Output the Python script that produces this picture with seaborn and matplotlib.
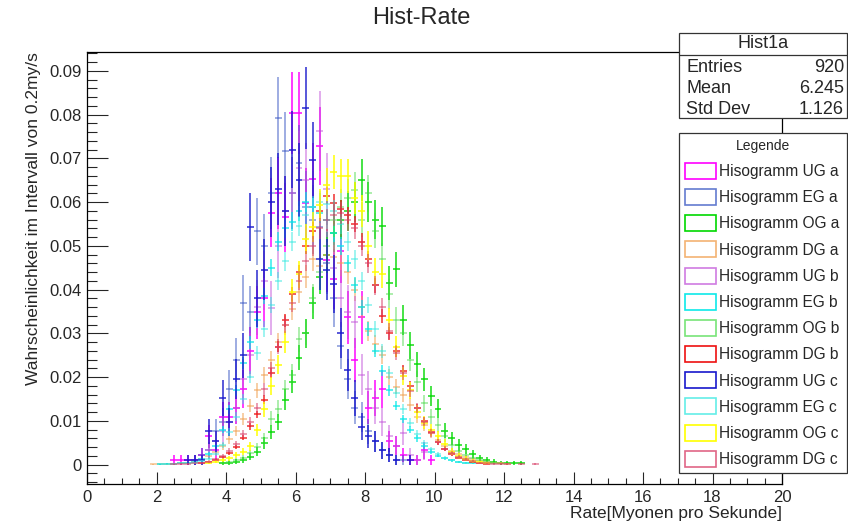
import numpy as np
import matplotlib.pyplot as plt
import matplotlib.ticker as mticker
import seaborn as sns
from matplotlib.patches import Patch, Rectangle
from matplotlib.lines import Line2D

sns.set_style('ticks')
plt.rcParams['font.family'] = ['Liberation Sans', 'DejaVu Sans']

# bin width 0.2, each series: first bin centre + probabilities
ug_a_start = 2.5
ug_a = [0.0011, 0.0011, 0.0011, 0.0011, 0.0022, 0.0065, 0.0033, 0.0109, 0.0109, 0.0130,
        0.0174, 0.0261, 0.0348, 0.0380, 0.0576, 0.0620, 0.0565, 0.0804, 0.0804, 0.0598,
        0.0652, 0.0728, 0.0467, 0.0424, 0.0489, 0.0337, 0.0239, 0.0337, 0.0130, 0.0152,
        0.0174, 0.0054, 0.0043, 0.0022, 0.0011, 0.0011, 0.0033, 0.0011]
eg_a_start = 3.1
eg_a = [0.0011, 0.0022, 0.0033, 0.0076, 0.0098, 0.0174, 0.0239, 0.0370, 0.0348, 0.0533,
        0.0500, 0.0620, 0.0793, 0.0717, 0.0620, 0.0690, 0.0590, 0.0560, 0.0543, 0.0460,
        0.0380, 0.0272, 0.0196, 0.0130, 0.0109, 0.0076, 0.0054, 0.0033, 0.0022, 0.0011, 0.0011]
og_a_start = 3.9
og_a = [0.0004, 0.0004, 0.0007, 0.0011, 0.0018, 0.0030, 0.0050, 0.0075, 0.0098, 0.0149,
        0.0190, 0.0245, 0.0300, 0.0369, 0.0430, 0.0480, 0.0530, 0.0560, 0.0580, 0.0600,
        0.0650, 0.0600, 0.0560, 0.0545, 0.0415, 0.0447, 0.0330, 0.0273, 0.0230, 0.0195,
        0.0157, 0.0128, 0.0078, 0.0060, 0.0045, 0.0037, 0.0025, 0.0015, 0.0011, 0.0007,
        0.0004, 0.0004, 0.0004, 0.0004]
dg_a_start = 1.9
dg_a = [0.0001, 0.0001, 0.0002, 0.0002, 0.0003,
        0.0005, 0.0008, 0.0012, 0.0020, 0.0030, 0.0042, 0.0058, 0.0078, 0.0105, 0.0135,
        0.0170, 0.0205, 0.0240, 0.0280, 0.0320, 0.0355, 0.0395, 0.0430, 0.0470, 0.0455,
        0.0480, 0.0475, 0.0460, 0.0440, 0.0400, 0.0360, 0.0305, 0.0275, 0.0250, 0.0200,
        0.0178, 0.0160, 0.0137, 0.0110, 0.0090, 0.0072, 0.0056, 0.0042, 0.0032, 0.0024,
        0.0017, 0.0012, 0.0009, 0.0006, 0.0004, 0.0003, 0.0002]
ug_b_start = 3.1
ug_b = [0.0011, 0.0011, 0.0033, 0.0054, 0.0076, 0.0098, 0.0130, 0.0196, 0.0250, 0.0360,
        0.0420, 0.0358, 0.0500, 0.0580, 0.0620, 0.0677, 0.0650, 0.0590, 0.0762, 0.0630,
        0.0450, 0.0380, 0.0350, 0.0326, 0.0206, 0.0172, 0.0130, 0.0098, 0.0065, 0.0043,
        0.0073, 0.0022, 0.0011, 0.0030]
eg_b_start = 2.1
eg_b = [0.0001, 0.0002, 0.0002, 0.0003,
        0.0004, 0.0006, 0.0013, 0.0024, 0.0042, 0.0080, 0.0127, 0.0170, 0.0233, 0.0280,
        0.0330, 0.0386, 0.0450, 0.0510, 0.0540, 0.0555, 0.0580, 0.0600, 0.0590, 0.0575,
        0.0560, 0.0530, 0.0500, 0.0460, 0.0410, 0.0360, 0.0310, 0.0260, 0.0215, 0.0170,
        0.0135, 0.0105, 0.0080, 0.0060, 0.0043, 0.0030, 0.0021, 0.0015, 0.0010, 0.0007,
        0.0005, 0.0003]
og_b_start = 3.9
og_b = [0.0004, 0.0006, 0.0010, 0.0016, 0.0026, 0.0040, 0.0060, 0.0105, 0.0128, 0.0172,
        0.0206, 0.0287, 0.0302, 0.0380, 0.0440, 0.0500, 0.0560, 0.0590, 0.0610, 0.0627,
        0.0560, 0.0620, 0.0535, 0.0470, 0.0390, 0.0330, 0.0300, 0.0240, 0.0190, 0.0140,
        0.0110, 0.0090, 0.0065, 0.0045, 0.0032, 0.0022, 0.0015, 0.0010, 0.0006, 0.0004]
dg_b_start = 3.3
dg_b = [0.0003, 0.0006, 0.0010, 0.0017, 0.0026, 0.0040, 0.0062, 0.0088, 0.0115, 0.0149,
        0.0210, 0.0270, 0.0330, 0.0390, 0.0440, 0.0500, 0.0535, 0.0580, 0.0615, 0.0598,
        0.0585, 0.0570, 0.0550, 0.0510, 0.0470, 0.0410, 0.0340, 0.0300, 0.0260, 0.0215,
        0.0180, 0.0130, 0.0100, 0.0075, 0.0052, 0.0036, 0.0024, 0.0016, 0.0010, 0.0006,
        0.0004, 0.0002]
ug_c_start = 2.9
ug_c = [0.0011, 0.0011, 0.0011, 0.0076, 0.0054, 0.0152, 0.0098, 0.0196, 0.0250, 0.0543,
        0.0380, 0.0446, 0.0600, 0.0630, 0.0580, 0.0720, 0.0650, 0.0815, 0.0696, 0.0470,
        0.0446, 0.0413, 0.0300, 0.0217, 0.0152, 0.0087, 0.0065, 0.0054, 0.0033, 0.0022,
        0.0011, 0.0, 0.0011]
eg_c_start = 3.1
eg_c = [0.0004, 0.0008, 0.0014, 0.0025, 0.0045, 0.0075, 0.0110, 0.0150, 0.0200, 0.0255,
        0.0310, 0.0365, 0.0420, 0.0465, 0.0510, 0.0545, 0.0570, 0.0590, 0.0600, 0.0595,
        0.0580, 0.0550, 0.0510, 0.0470, 0.0420, 0.0365, 0.0310, 0.0260, 0.0210, 0.0165,
        0.0128, 0.0096, 0.0070, 0.0050, 0.0035, 0.0024, 0.0016, 0.0010, 0.0006, 0.0004]
og_c_start = 3.5
og_c = [0.0005, 0.0007, 0.0011, 0.0015, 0.0022, 0.0030, 0.0042, 0.0080, 0.0127, 0.0180,
        0.0229, 0.0280, 0.0394, 0.0435, 0.0516, 0.0543, 0.0593, 0.0640, 0.0669, 0.0660,
        0.0660, 0.0610, 0.0580, 0.0500, 0.0440, 0.0436, 0.0330, 0.0270, 0.0203, 0.0170,
        0.0120, 0.0096, 0.0080, 0.0065, 0.0048, 0.0030, 0.0020, 0.0014, 0.0009, 0.0006,
        0.0004]
dg_c_start = 2.5
dg_c = [0.0001, 0.0002, 0.0002, 0.0003,
        0.0004, 0.0007, 0.0012, 0.0020, 0.0032, 0.0048, 0.0070, 0.0098, 0.0130, 0.0172,
        0.0220, 0.0270, 0.0320, 0.0370, 0.0420, 0.0465, 0.0500, 0.0540, 0.0560, 0.0570,
        0.0575, 0.0560, 0.0540, 0.0500, 0.0460, 0.0410, 0.0360, 0.0305, 0.0255, 0.0210,
        0.0168, 0.0130, 0.0098, 0.0072, 0.0052, 0.0037, 0.0026, 0.0018, 0.0012, 0.0008,
        0.0005, 0.0003, 0.0002, 0.0002, 0.0002, 0.0, 0.0002, 0.0, 0.0002]

labels = ['Hisogramm UG a', 'Hisogramm EG a', 'Hisogramm OG a', 'Hisogramm DG a',
          'Hisogramm UG b', 'Hisogramm EG b', 'Hisogramm OG b', 'Hisogramm DG b',
          'Hisogramm UG c', 'Hisogramm EG c', 'Hisogramm OG c', 'Hisogramm DG c']
starts = [ug_a_start, eg_a_start, og_a_start, dg_a_start, ug_b_start, eg_b_start,
          og_b_start, dg_b_start, ug_c_start, eg_c_start, og_c_start, dg_c_start]
values = [ug_a, eg_a, og_a, dg_a, ug_b, eg_b, og_b, dg_b, ug_c, eg_c, og_c, dg_c]
entries = [920, 920, 2800, 6000, 920, 12000, 3500, 15000, 920, 10000, 4500, 9000]

colors = ['#ff00ff', '#3050c0', '#00d800', '#f0a050', '#c050d8', '#00e8e8',
          '#40d840', '#ee1111', '#1818cc', '#30e8e0', '#ffff00', '#d84068']
alphas = [0.9, 0.55, 0.85, 0.6, 0.55, 0.75, 0.5, 0.8, 0.85, 0.55, 0.9, 0.6]

fig = plt.figure(figsize=(8.48, 5.24), dpi=100)
ax = fig.add_axes([87 / 848, 1 - 484 / 524, 695 / 848, 432 / 524])

for start, vals, n, col, a in zip(starts, values, entries, colors, alphas):
    vals = np.array(vals)
    x = start + 0.2 * np.arange(len(vals))
    m = vals > 0
    err = np.sqrt(vals / n)
    ax.errorbar(x[m], vals[m], yerr=err[m], xerr=0.1, fmt='none',
                ecolor=col, alpha=a, elinewidth=1.2, capsize=0)

ax.set_xlim(0, 20)
ax.set_ylim(-0.0044, 0.0943)
ax.xaxis.set_major_locator(mticker.MultipleLocator(2))
ax.xaxis.set_minor_locator(mticker.MultipleLocator(0.5))
ax.yaxis.set_major_locator(mticker.MultipleLocator(0.01))
ax.yaxis.set_minor_locator(mticker.MultipleLocator(0.002))
ax.yaxis.set_major_formatter(mticker.FuncFormatter(lambda v, p: '0' if abs(v) < 1e-9 else f'{v:.2f}'))
ax.tick_params(axis='x', which='major', direction='in', length=9, width=0.8, labelsize=12, pad=4)
ax.tick_params(axis='x', which='minor', direction='in', length=4.5, width=0.8)
ax.tick_params(axis='y', which='major', direction='in', length=15, width=0.8, labelsize=12, pad=4)
ax.tick_params(axis='y', which='minor', direction='in', length=7.5, width=0.8)
for s in ax.spines.values():
    s.set_visible(True)
    s.set_linewidth(0.9)
    s.set_color('black')

ax.set_xlabel('Rate[Myonen pro Sekunde]', loc='right', fontsize=12.5, labelpad=1)
ax.set_ylabel('Wahrscheinlichkeit im Intervall von 0.2my/s', loc='top', fontsize=12.5, labelpad=6)
fig.text(421 / 848, 1 - 18 / 524, 'Hist-Rate', ha='center', va='center', fontsize=17)

# stats box
bx0, bx1 = 679 / 848, 847 / 848
fig.patches.append(Rectangle((bx0, 1 - 118 / 524), bx1 - bx0, 85 / 524, transform=fig.transFigure,
                             facecolor='white', edgecolor='#333333', lw=0.9, zorder=3))
fig.lines.append(Line2D([bx0, bx1], [1 - 55 / 524, 1 - 55 / 524], transform=fig.transFigure,
                        color='#333333', lw=0.9, zorder=4))
fig.text((bx0 + bx1) / 2, 1 - 44 / 524, 'Hist1a', ha='center', va='center', fontsize=13, zorder=5)
for yy, name, val in [(67, 'Entries', '920'), (88, 'Mean', '6.245'), (109, 'Std Dev', '1.126')]:
    fig.text(686 / 848, 1 - yy / 524, name, ha='left', va='center', fontsize=13, zorder=5)
    fig.text(844 / 848, 1 - yy / 524, val, ha='right', va='center', fontsize=13, zorder=5)

handles = [Patch(facecolor='white', edgecolor=c, alpha=min(1, a + 0.2), lw=1.2)
           for c, a in zip(colors, alphas)]
leg = fig.legend(handles, labels, title='Legende', loc='upper left',
                 bbox_to_anchor=(bx0, 1 - 470 / 524, bx1 - bx0, 337 / 524), mode='expand',
                 fontsize=11.2, title_fontsize=10, frameon=True, fancybox=False,
                 handlelength=2.0, handleheight=1.2, handletextpad=0.2,
                 labelspacing=0.64, borderpad=0.38, borderaxespad=0)
leg.get_frame().set_edgecolor('#333333')
leg.get_frame().set_linewidth(0.9)
leg.get_frame().set_alpha(1)

fig.savefig('out.png', dpi=100)
